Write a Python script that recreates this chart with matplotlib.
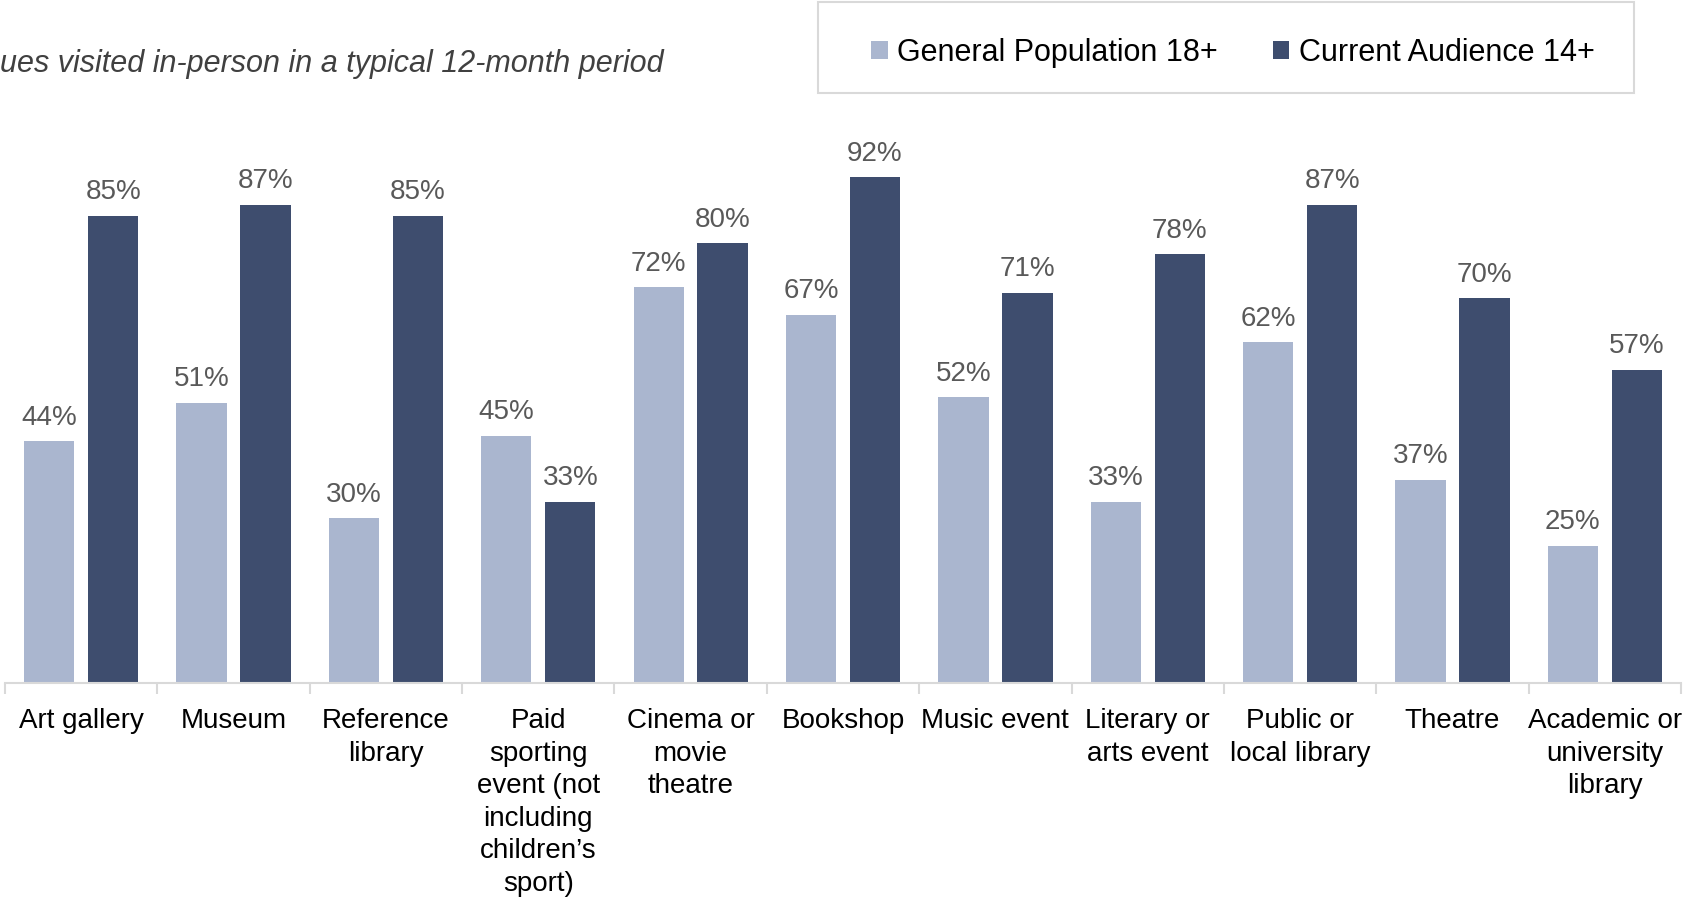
import matplotlib
matplotlib.use('Agg')
import matplotlib.pyplot as plt
from matplotlib.patches import Rectangle, Patch
import numpy as np

# data
categories = ['Art gallery', 'Museum', 'Reference\nlibrary',
              'Paid\nsporting\nevent (not\nincluding\nchildren\u2019s\nsport)',
              'Cinema or\nmovie\ntheatre', 'Bookshop', 'Music event',
              'Literary or\narts event', 'Public or\nlocal library', 'Theatre',
              'Academic or\nuniversity\nlibrary']
general_pop = [44, 51, 30, 45, 72, 67, 52, 33, 62, 37, 25]
current_aud = [85, 87, 85, 33, 80, 92, 71, 78, 87, 70, 57]
series_names = ['General Population 18+', 'Current Audience 14+']
title = 'ues visited in-person in a typical 12-month period'

light = '#AAB6CF'
dark = '#3E4D6E'
font = ['Liberation Sans', 'DejaVu Sans']
plt.rcParams['font.family'] = font

fig = plt.figure(figsize=(16.84, 9.08), dpi=100)
ax = fig.add_axes([5 / 1684, 1 - 683 / 908, 1676 / 1684, 683 / 908])

x = np.arange(len(categories))
w = 0.33
off = 0.21
b1 = ax.bar(x - off, general_pop, w, color=light)
b2 = ax.bar(x + off, current_aud, w, color=dark)

for bars, vals in [(b1, general_pop), (b2, current_aud)]:
    for r, v in zip(bars, vals):
        ax.annotate('{}%'.format(v), (r.get_x() + r.get_width() / 2, v),
                    xytext=(0, 7.5), textcoords='offset points',
                    ha='center', va='bottom', fontsize=20, color='#595959')

ax.set_xlim(-0.5, len(categories) - 0.5)
ax.set_ylim(0, 683 / 5.5)
for s in ['top', 'right', 'left']:
    ax.spines[s].set_visible(False)
ax.spines['bottom'].set_color('#D9D9D9')
ax.spines['bottom'].set_linewidth(1.5)
ax.set_yticks([])
ax.set_xticks(x)
ax.set_xticklabels(categories, fontsize=20, color='#000000', linespacing=1.33)
ax.set_xticks(np.arange(-0.5, len(categories)), minor=True)
ax.tick_params(axis='x', which='major', length=0, pad=18)
ax.tick_params(axis='x', which='minor', length=8, width=1.5, color='#D9D9D9')

fig.text(0, 1 - 64 / 908, title, fontsize=22, style='italic', color='#404040',
         ha='left', va='center')

# legend box
fig.patches.append(Rectangle((818 / 1684, 1 - 93 / 908), 816 / 1684, 91 / 908,
                             transform=fig.transFigure, facecolor='white',
                             edgecolor='#D9D9D9', linewidth=1.5))
handles = [Patch(facecolor=light), Patch(facecolor=dark)]
fig.legend(handles, series_names, loc='center', bbox_to_anchor=(0.732, 1 - 53 / 908),
           ncol=2, frameon=False, fontsize=22, handlelength=0.55, handleheight=0.55,
           handletextpad=0.3, columnspacing=1.8)

fig.savefig('out.png', dpi=100)
